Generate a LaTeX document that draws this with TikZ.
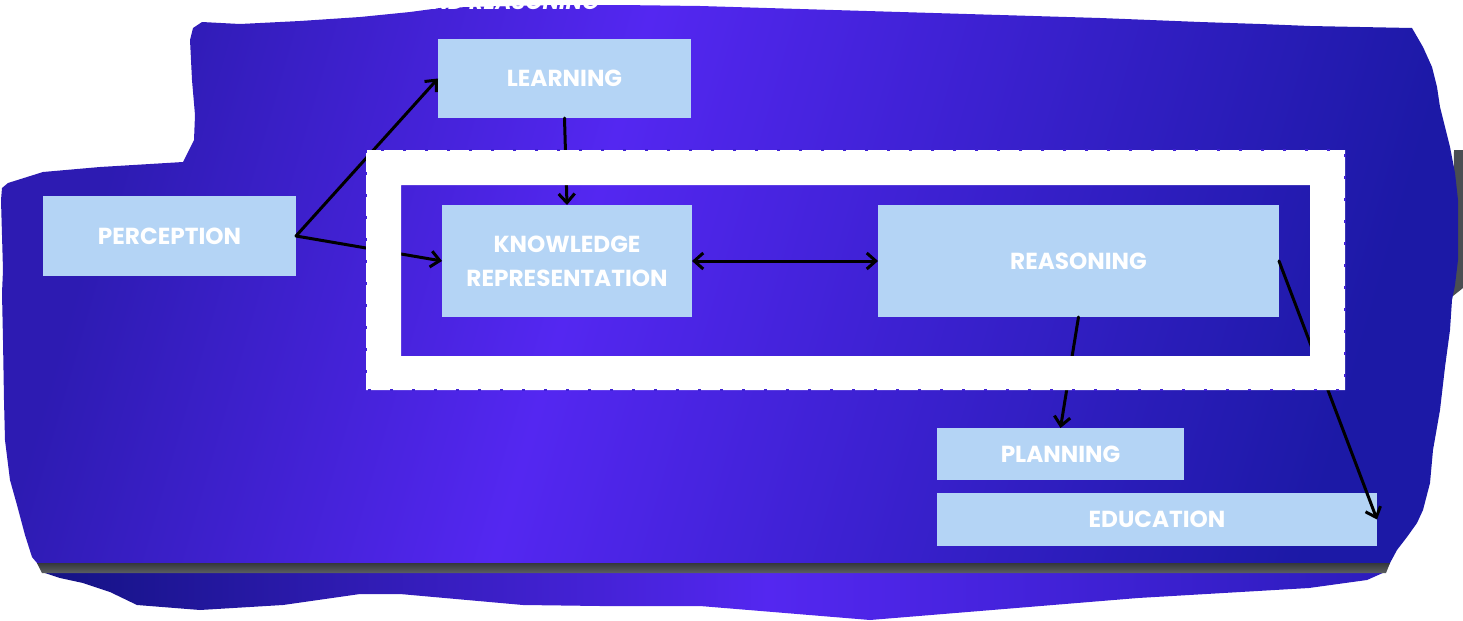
\documentclass[tikz,border=0pt]{standalone}
\usepackage{fontspec}
\setmainfont{Poppins}
\usetikzlibrary{arrows.meta}
\definecolor{bA}{HTML}{2D1BB2}
\definecolor{bB}{HTML}{5427F1}
\definecolor{bC}{HTML}{1C19A6}
\definecolor{lA}{HTML}{131283}
\definecolor{lB}{HTML}{5427F0}
\definecolor{lC}{HTML}{2C1CBC}
\definecolor{boxc}{HTML}{B4D4F5}
\definecolor{dotc}{HTML}{3F21D6}
\definecolor{shadowc}{HTML}{4A4E52}
\definecolor{barT}{HTML}{35383B}
\definecolor{barB}{HTML}{5B5F62}
\pgfdeclarehorizontalshading{blobshade}{100bp}{color(0bp)=(bA); color(25bp)=(bA); color(44bp)=(bB); color(75bp)=(bC); color(100bp)=(bC)}
\pgfdeclarehorizontalshading{lowshade}{100bp}{color(0bp)=(lA); color(25bp)=(lA); color(52bp)=(lB); color(75bp)=(lC); color(100bp)=(lC)}
\tikzset{
  mytip/.tip={Straight Barb[length=4.5pt,width=8pt]},
  box/.style={fill=boxc, text=white, font=\bfseries\fontsize{11.6}{17}\selectfont, align=center, inner sep=0pt, outer sep=0pt},
  conn/.style={draw=black, line width=1.5pt, line cap=round},
}
\begin{document}
\begin{tikzpicture}[x=0.5pt,y=-0.5pt]
\useasboundingbox (0,0) rectangle (1463,621);
% right shadow
\fill[shadowc] (1454,150) -- (1463,150) -- (1463,288) -- (1453,296) -- cycle;
% lower strip
\shade[shading=lowshade] (37,563) -- (1390,563) -- (1385,572) -- (1367,580) -- (1309,588) -- (1138,598) -- (992,610) -- (870,620) -- (700,606) -- (600,606) -- (523,605) -- (400,594) -- (360,594) -- (283,605) -- (200,610) -- (137,605) -- (110,592) -- (83,583) -- (60,578) -- (45,573) -- cycle;
% main blob
\shade[shading=blobshade, shading angle=-16] (190,40) -- (193,28) -- (202,22) -- (240,24) -- (300,21) -- (360,17) -- (410,12) -- (440,8) -- (500,6) -- (560,5) -- (620,5) -- (700,6) -- (800,9) -- (900,12) -- (1000,15) -- (1100,18) -- (1200,22) -- (1260,24) -- (1310,26) -- (1360,27) -- (1412,28) -- (1423,47) -- (1432,67) -- (1437,87) -- (1440,107) -- (1445,127) -- (1450,147) -- (1455,173) -- (1458,200) -- (1458,260) -- (1455,285) -- (1452,300) -- (1450,330) -- (1445,367) -- (1440,410) -- (1433,450) -- (1430,483) -- (1423,510) -- (1417,523) -- (1407,537) -- (1397,550) -- (1390,563) -- (37,563) -- (32,557) -- (25,535) -- (17,505) -- (10,480) -- (5,440) -- (4,400) -- (3,340) -- (2,293) -- (3,270) -- (1,200) -- (2,188) -- (8,183) -- (43,172) -- (100,167) -- (150,164) -- (183,162) -- (188,152) -- (194,140) -- (195,115) -- (192,80) -- cycle;
% shadow bar
\shade[top color=barT, bottom color=barB] (37,563) -- (1390,563) -- (1386,573) -- (42,573) -- cycle;
% title fragment
\node[anchor=base west, text=white, inner sep=0pt, font=\bfseries\itshape\fontsize{11}{13}\selectfont] (title) at (415,10) {AND REASONING};
% boxes
\node[box, minimum width=126.5pt, minimum height=39.5pt] (learn) at (564.5,78.5) {LEARNING};
\node[box, minimum width=126.5pt, minimum height=40pt] (perc) at (169.5,236) {PERCEPTION};
\node[box, minimum width=125pt, minimum height=56pt] (kr) at (567,261) {KNOWLEDGE\\REPRESENTATION};
\node[box, minimum width=200.5pt, minimum height=56pt] (reas) at (1078.5,261) {REASONING};
\node[box, minimum width=123.5pt, minimum height=26pt] (plan) at (1060.5,454) {PLANNING};
\node[box, minimum width=220pt, minimum height=26.5pt] (edu) at (1157,519.5) {EDUCATION};
% connectors
\draw[conn, -mytip] (perc.east) -- (learn.west);
\draw[conn, -mytip] (perc.east) -- (kr.west);
\draw[conn, -mytip] (learn.south) -- (kr.north);
\draw[conn, mytip-mytip] (kr.east) -- (reas.west);
\draw[conn, -mytip] (reas.south) -- (plan.north);
\draw[conn, -mytip] (reas.east) -- (edu.east);
% white frame
\fill[white, even odd rule] (366,150) rectangle (1345,390) (401,185) rectangle (1310,356);
\draw[dotc, line width=1pt, dash pattern=on 1.5pt off 9.5pt] (366,150) rectangle (1345,390);
\end{tikzpicture}
\end{document}
